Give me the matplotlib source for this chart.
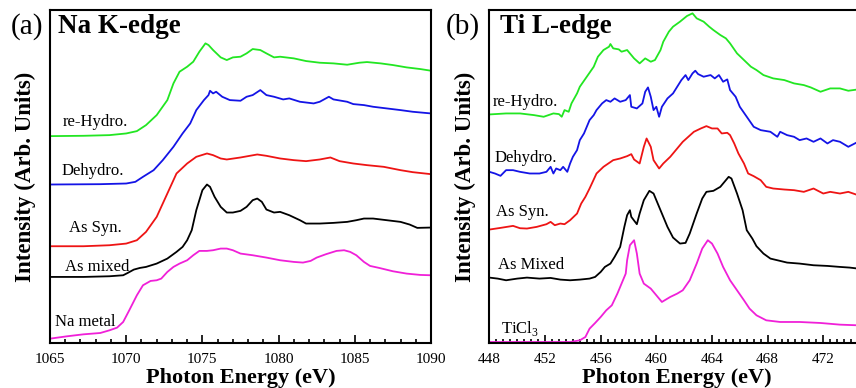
import numpy as np
import matplotlib
matplotlib.use("Agg")
import matplotlib.pyplot as plt
from matplotlib.ticker import MultipleLocator

plt.rcParams['font.family'] = ['Liberation Serif', 'DejaVu Serif']
plt.rcParams['mathtext.fontset'] = 'custom'
plt.rcParams['mathtext.rm'] = 'Liberation Serif'

# ---- Na K-edge (panel a), energies in eV, intensities in arb. units ----
na_rehydro_e = [1065.0, 1067.2, 1068.9, 1070.0, 1070.7, 1071.3, 1072.0, 1072.7, 1073.1, 1073.5,
                1074.0, 1074.4, 1074.8, 1075.2, 1075.4, 1075.7, 1076.2, 1076.6, 1077.0, 1077.5,
                1077.9, 1078.3, 1078.8, 1079.2, 1079.7, 1080.1, 1081.0, 1081.8, 1082.7, 1083.6,
                1084.5, 1085.3, 1085.8, 1086.7, 1087.5, 1088.4, 1089.3, 1090.0]
na_rehydro_i = [6.20, 6.21, 6.23, 6.28, 6.35, 6.53, 6.83, 7.28, 7.78, 8.13,
                8.28, 8.43, 8.73, 8.98, 8.93, 8.78, 8.56, 8.48, 8.56, 8.58,
                8.68, 8.81, 8.78, 8.68, 8.56, 8.58, 8.53, 8.45, 8.40, 8.38,
                8.34, 8.40, 8.42, 8.38, 8.33, 8.26, 8.21, 8.16]

na_dehydro_e = [1065.0, 1068.3, 1070.0, 1070.6, 1071.1, 1071.8, 1072.4, 1073.1, 1073.7, 1074.2,
                1074.6, 1075.1, 1075.4, 1075.5, 1075.7, 1075.9, 1076.3, 1076.8, 1077.5, 1077.9,
                1078.3, 1078.8, 1079.2, 1079.7, 1080.3, 1080.7, 1081.4, 1082.3, 1082.7, 1083.3,
                1083.6, 1084.5, 1084.9, 1085.6, 1086.2, 1087.1, 1088.0, 1088.8, 1090.0]
na_dehydro_i = [4.75, 4.76, 4.78, 4.83, 4.98, 5.18, 5.48, 5.88, 6.28, 6.58,
                6.98, 7.28, 7.43, 7.56, 7.48, 7.53, 7.38, 7.28, 7.26, 7.38,
                7.43, 7.58, 7.43, 7.38, 7.30, 7.33, 7.23, 7.18, 7.23, 7.38,
                7.30, 7.23, 7.16, 7.13, 7.08, 7.03, 6.98, 6.93, 6.88]

na_assyn_e = [1065.0, 1067.2, 1068.9, 1070.0, 1070.7, 1071.3, 1072.0, 1072.4, 1072.9, 1073.3,
              1074.0, 1074.6, 1075.3, 1075.7, 1076.2, 1076.6, 1077.5, 1078.6, 1079.2, 1080.1,
              1081.0, 1081.8, 1082.7, 1083.4, 1084.0, 1084.9, 1085.8, 1086.9, 1088.0, 1088.8, 1090.0]
na_assyn_i = [2.90, 2.90, 2.93, 2.98, 3.08, 3.33, 3.78, 4.18, 4.68, 5.08,
              5.38, 5.58, 5.68, 5.63, 5.53, 5.50, 5.56, 5.65, 5.61, 5.53,
              5.48, 5.45, 5.50, 5.56, 5.45, 5.38, 5.33, 5.28, 5.18, 5.12, 5.06]

na_mixed_e = [1065.0, 1067.2, 1068.9, 1069.8, 1070.1, 1070.5, 1070.9, 1071.3, 1072.0, 1072.7,
              1073.3, 1073.7, 1074.0, 1074.3, 1074.6, 1075.0, 1075.3, 1075.5, 1075.8, 1076.2,
              1076.6, 1077.0, 1077.5, 1077.9, 1078.3, 1078.6, 1078.9, 1079.2, 1079.7, 1080.1,
              1080.7, 1081.4, 1081.8, 1082.7, 1083.6, 1084.5, 1085.1, 1085.6, 1086.2, 1087.1,
              1088.0, 1088.6, 1089.1, 1090.0]
na_mixed_i = [1.98, 1.98, 2.00, 2.03, 2.10, 2.20, 2.25, 2.28, 2.38, 2.53,
              2.73, 2.88, 3.08, 3.38, 3.98, 4.58, 4.75, 4.68, 4.38, 4.08,
              3.91, 3.91, 3.96, 4.08, 4.28, 4.33, 4.23, 4.00, 3.91, 3.93,
              3.83, 3.68, 3.58, 3.58, 3.60, 3.63, 3.68, 3.73, 3.73, 3.68,
              3.63, 3.55, 3.45, 3.46]

na_metal_e = [1065.0, 1066.1, 1067.2, 1068.3, 1068.9, 1069.4, 1069.8, 1070.2, 1070.7, 1071.1,
              1071.6, 1072.0, 1072.3, 1072.7, 1073.1, 1073.5, 1074.0, 1074.4, 1074.8, 1075.3,
              1075.7, 1076.2, 1076.6, 1077.0, 1077.5, 1078.3, 1079.2, 1080.1, 1081.0, 1081.6,
              1082.1, 1082.5, 1083.1, 1083.8, 1084.3, 1084.7, 1085.1, 1085.6, 1086.0, 1086.6,
              1087.5, 1088.4, 1089.3, 1090.0]
na_metal_i = [0.13, 0.20, 0.26, 0.30, 0.38, 0.46, 0.63, 0.98, 1.43, 1.73,
              1.86, 1.88, 1.93, 2.13, 2.28, 2.38, 2.48, 2.63, 2.76, 2.76,
              2.78, 2.83, 2.83, 2.78, 2.68, 2.63, 2.56, 2.48, 2.43, 2.41,
              2.46, 2.56, 2.66, 2.76, 2.78, 2.73, 2.63, 2.43, 2.31, 2.25,
              2.15, 2.08, 2.04, 2.03]

# ---- Ti L-edge (panel b) ----
ti_rehydro_e = [448.0, 449.2, 450.2, 451.2, 451.9, 452.6, 453.0, 453.2, 453.4, 453.7,
                453.9, 454.3, 454.5, 455.0, 455.5, 455.8, 456.2, 456.6, 456.7, 456.9,
                457.3, 457.5, 457.9, 458.4, 458.8, 459.2, 459.6, 459.9, 460.3, 460.5,
                460.9, 461.2, 461.7, 462.2, 462.6, 462.9, 463.4, 463.8, 464.1, 464.6,
                465.0, 465.3, 465.8, 466.3, 466.8, 467.2, 467.7, 468.4, 469.2, 469.9,
                470.6, 471.1, 471.8, 472.5, 473.2, 473.8, 474.5]
ti_rehydro_i = [6.85, 6.88, 6.88, 6.83, 6.78, 6.88, 6.86, 6.78, 6.98, 6.93,
                7.18, 7.48, 7.68, 7.98, 8.28, 8.58, 8.78, 8.88, 8.96, 8.83,
                8.80, 8.73, 8.78, 8.53, 8.38, 8.53, 8.43, 8.48, 8.78, 9.03,
                9.33, 9.48, 9.63, 9.80, 9.88, 9.73, 9.63, 9.48, 9.38, 9.23,
                9.13, 8.98, 8.68, 8.48, 8.28, 8.18, 8.03, 7.93, 7.88, 7.78,
                7.73, 7.66, 7.53, 7.63, 7.63, 7.56, 7.60]

ti_dehydro_e = [448.0, 448.4, 448.8, 449.2, 449.7, 450.2, 450.9, 451.6, 452.1, 452.4,
                452.6, 452.8, 453.1, 453.3, 453.6, 453.8, 454.0, 454.3, 454.5, 454.8,
                455.0, 455.2, 455.5, 455.7, 456.1, 456.4, 456.7, 457.0, 457.4, 457.8,
                458.1, 458.2, 458.6, 459.0, 459.2, 459.4, 459.6, 459.8, 460.0, 460.2,
                460.4, 460.8, 461.2, 461.5, 461.8, 462.1, 462.3, 462.6, 462.8, 463.0,
                463.4, 463.9, 464.2, 464.5, 464.8, 465.1, 465.3, 465.7, 466.0, 466.5,
                467.0, 467.5, 468.2, 468.7, 468.9, 469.4, 469.9, 470.3, 470.8, 471.3,
                471.8, 472.3, 472.7, 473.2, 473.8, 474.5]
ti_dehydro_i = [5.13, 5.08, 5.01, 5.18, 5.18, 5.13, 5.08, 5.08, 5.13, 5.28,
                5.08, 5.23, 5.18, 5.28, 5.13, 5.38, 5.58, 5.78, 6.08, 6.28,
                6.48, 6.68, 6.83, 6.98, 7.18, 7.28, 7.23, 7.33, 7.23, 7.28,
                7.43, 7.08, 7.03, 7.18, 7.53, 7.66, 7.38, 6.98, 7.08, 6.78,
                7.08, 7.33, 7.48, 7.68, 7.88, 8.03, 7.88, 8.08, 8.16, 8.06,
                7.98, 8.03, 7.93, 8.03, 7.83, 7.90, 7.58, 7.38, 7.08, 6.78,
                6.48, 6.38, 6.33, 6.18, 6.33, 6.23, 6.18, 6.08, 6.13, 6.03,
                6.13, 5.98, 6.08, 6.03, 5.88, 6.03]

ti_assyn_e = [448.0, 448.8, 449.7, 450.2, 450.7, 451.4, 452.1, 452.4, 452.7, 453.1,
              453.4, 453.8, 454.3, 454.6, 454.9, 455.2, 455.7, 456.2, 456.9, 457.4,
              457.9, 458.2, 458.4, 458.8, 459.1, 459.3, 459.6, 459.8, 460.2, 460.5,
              461.0, 461.5, 461.9, 462.3, 462.7, 463.2, 463.6, 464.0, 464.4, 464.7,
              465.1, 465.3, 465.6, 465.9, 466.3, 466.6, 467.0, 467.5, 467.9, 468.4,
              469.2, 469.9, 470.6, 471.3, 472.0, 472.5, 473.2, 473.8, 474.5]
ti_assyn_i = [3.40, 3.45, 3.51, 3.44, 3.43, 3.48, 3.56, 3.63, 3.53, 3.58,
              3.56, 3.68, 3.88, 4.18, 4.38, 4.63, 5.08, 5.28, 5.48, 5.53,
              5.60, 5.66, 5.50, 5.38, 5.88, 6.13, 5.88, 5.48, 5.23, 5.38,
              5.58, 5.83, 6.03, 6.18, 6.33, 6.43, 6.50, 6.43, 6.43, 6.28,
              6.30, 6.23, 5.98, 5.68, 5.38, 5.08, 5.00, 4.88, 4.68, 4.63,
              4.60, 4.58, 4.53, 4.63, 4.48, 4.53, 4.48, 4.53, 4.43]

ti_mixed_e = [448.0, 448.6, 449.2, 450.0, 450.7, 451.6, 452.4, 453.1, 453.8, 454.5,
              455.2, 455.6, 456.0, 456.3, 456.7, 457.0, 457.4, 457.7, 457.9, 458.1,
              458.2, 458.6, 458.8, 459.1, 459.5, 459.8, 460.0, 460.4, 460.8, 461.2,
              461.7, 462.1, 462.4, 462.9, 463.3, 463.6, 464.1, 464.6, 465.0, 465.2,
              465.4, 465.8, 466.2, 466.5, 466.9, 467.2, 467.7, 468.2, 468.7, 469.4,
              470.3, 471.3, 472.3, 473.2, 473.9, 474.5]
ti_mixed_i = [1.96, 1.93, 1.88, 1.93, 1.96, 1.93, 1.95, 1.90, 1.88, 1.90,
              1.93, 1.98, 2.13, 2.28, 2.38, 2.58, 2.88, 3.48, 3.83, 3.98,
              3.78, 3.56, 3.88, 4.28, 4.56, 4.48, 4.28, 3.88, 3.48, 3.16,
              2.98, 3.00, 3.28, 3.88, 4.33, 4.53, 4.56, 4.68, 4.88, 4.98,
              4.93, 4.48, 3.98, 3.38, 3.13, 2.90, 2.68, 2.53, 2.48, 2.41,
              2.38, 2.33, 2.31, 2.28, 2.26, 2.23]

ti_ticl3_e = [448.0, 450.4, 452.4, 453.8, 454.5, 454.9, 455.2, 455.6, 456.0, 456.4,
              456.8, 457.2, 457.5, 457.8, 457.9, 458.1, 458.4, 458.6, 458.8, 459.1,
              459.6, 460.0, 460.4, 460.6, 461.0, 461.5, 461.9, 462.4, 462.9, 463.3,
              463.7, 464.0, 464.4, 464.8, 465.3, 465.8, 466.3, 466.7, 467.2, 467.9,
              468.9, 470.3, 471.8, 473.2, 474.5]
ti_ticl3_i = [0.03, 0.03, 0.03, 0.03, 0.08, 0.18, 0.43, 0.60, 0.78, 0.98,
              1.13, 1.48, 1.78, 2.08, 2.48, 2.93, 3.08, 2.68, 2.08, 1.78,
              1.63, 1.43, 1.23, 1.28, 1.38, 1.48, 1.58, 1.88, 2.38, 2.83,
              3.08, 2.98, 2.68, 2.28, 1.88, 1.58, 1.28, 1.03, 0.83, 0.68,
              0.63, 0.63, 0.60, 0.55, 0.53]

colors = ['#22e622', '#1414e6', '#ee1414', '#000000', '#f020d8']
na_names = ['re-Hydro.', 'Dehydro.', 'As Syn.', 'As mixed', 'Na metal']
ti_names = ['re-Hydro.', 'Dehydro.', 'As Syn.', 'As Mixed', r'TiCl$_\mathrm{3}$']
na_label_pos = [(1067.95, 6.63), (1067.8, 5.16), (1068.0, 3.45), (1068.1, 2.28), (1067.3, 0.63)]
ti_label_pos = [(450.6, 7.23), (450.6, 5.55), (450.4, 3.93), (451.0, 2.35), (450.2, 0.43)]

W, H = 856, 388
fig = plt.figure(figsize=(W / 100, H / 100), dpi=100)
ax1 = fig.add_axes([50 / W, 45 / H, 381 / W, 333 / H])
ax2 = fig.add_axes([489.4 / W, 45 / H, 375.6 / W, 333 / H])

na_series = [(na_rehydro_e, na_rehydro_i), (na_dehydro_e, na_dehydro_i), (na_assyn_e, na_assyn_i),
             (na_mixed_e, na_mixed_i), (na_metal_e, na_metal_i)]
ti_series = [(ti_rehydro_e, ti_rehydro_i), (ti_dehydro_e, ti_dehydro_i), (ti_assyn_e, ti_assyn_i),
             (ti_mixed_e, ti_mixed_i), (ti_ticl3_e, ti_ticl3_i)]

for (e, i), c in zip(na_series, colors):
    ax1.plot(e, i, color=c, lw=1.3)
for (e, i), c in zip(ti_series, colors):
    ax2.plot(e, i, color=c, lw=1.3)

for (x, y), name in zip(na_label_pos, na_names):
    ax1.text(x, y, name, fontsize=12, ha='center', va='center')
for (x, y), name in zip(ti_label_pos, ti_names):
    ax2.text(x, y, name, fontsize=12, ha='center', va='center')

ax1.set_xlim(1065, 1090)
ax1.xaxis.set_major_locator(MultipleLocator(5))
ax1.xaxis.set_minor_locator(MultipleLocator(1))
ax2.set_xlim(448, 475)
ax2.xaxis.set_major_locator(MultipleLocator(4))
ax2.xaxis.set_minor_locator(MultipleLocator(0.5))

for ax in (ax1, ax2):
    ax.set_ylim(0, 9.98)
    ax.set_yticks([])
    for s in ax.spines.values():
        s.set_linewidth(1.5)
    ax.tick_params(axis='x', which='major', direction='in', length=6, width=1.2,
                   labelsize=11, pad=7)
    ax.tick_params(axis='x', which='minor', direction='in', length=3, width=1.2)
    ax.set_xlabel('Photon Energy (eV)', fontsize=16, fontweight='bold', labelpad=2)

ax1.text(0.021, 0.949, 'Na K-edge', transform=ax1.transAxes, fontsize=19.5,
         fontweight='bold', ha='left', va='center')
ax2.text(0.028, 0.949, 'Ti L-edge', transform=ax2.transAxes, fontsize=19.5,
         fontweight='bold', ha='left', va='center')

fig.text(27 / W, 1 - 27 / H, '(a)', fontsize=21, ha='center', va='center')
fig.text(463 / W, 1 - 27 / H, '(b)', fontsize=21, ha='center', va='center')
fig.text(25 / W, 1 - 177 / H, 'Intensity (Arb. Units)', fontsize=16.5, fontweight='bold',
         rotation=90, ha='center', va='center')
fig.text(465 / W, 1 - 177 / H, 'Intensity (Arb. Units)', fontsize=16.5, fontweight='bold',
         rotation=90, ha='center', va='center')

fig.savefig('out.png', dpi=100)
